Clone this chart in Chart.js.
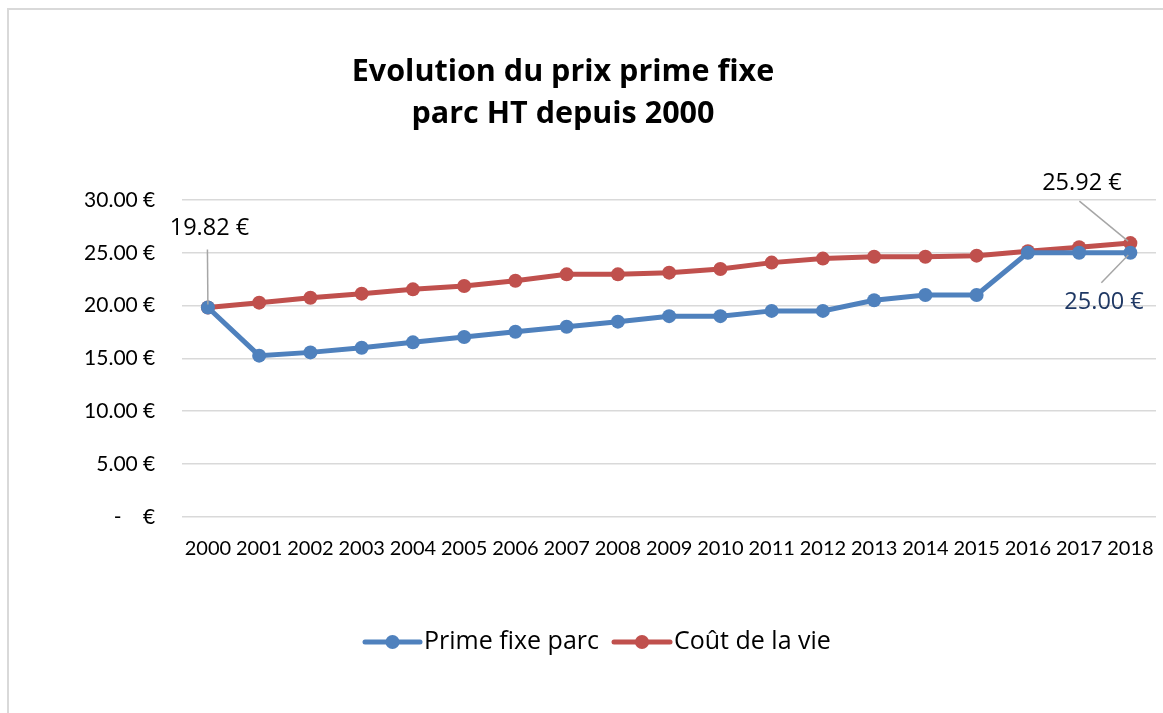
<!DOCTYPE html>
<html>
<head>
<meta charset="utf-8">
<script src="https://cdn.jsdelivr.net/npm/chart.js@4.4.1/dist/chart.umd.min.js"></script>
<style>
  html, body { margin: 0; padding: 0; background: #ffffff; }
  #wrap { position: relative; width: 1163px; height: 713px; overflow: hidden; }
  #frame { position: absolute; left: 7px; top: 8px; width: 1200px; height: 760px; border: 2px solid #d9d9d9; box-sizing: border-box; }
  canvas { position: absolute; left: 0; top: 0; }
</style>
</head>
<body>
<div id="wrap">
  <div id="frame"></div>
  <canvas id="c" width="1163" height="713"></canvas>
</div>
<script>
const titleLines = ['Evolution du prix prime fixe', 'parc HT depuis 2000'];
const years = ['2000','2001','2002','2003','2004','2005','2006','2007','2008','2009','2010','2011','2012','2013','2014','2015','2016','2017','2018'];
const seriesNames = ['Prime fixe parc', 'Coût de la vie'];
const primeFixe = [19.82, 15.26, 15.57, 16.01, 16.52, 17.03, 17.53, 18.00, 18.48, 19.00, 19.00, 19.50, 19.50, 20.50, 21.00, 21.00, 25.00, 25.00, 25.00];
const coutVie = [19.82, 20.28, 20.75, 21.13, 21.54, 21.86, 22.36, 22.96, 22.96, 23.12, 23.47, 24.07, 24.45, 24.63, 24.63, 24.73, 25.15, 25.52, 25.92];
const yTicks = [0, 5, 10, 15, 20, 25, 30];
const colors = ['#4f81bd', '#c0504d'];

const FONT = 'Lato, "Open Sans", sans-serif';
const FONT2 = '"Open Sans", Lato, sans-serif';
const fmt = v => v === 0 ? '-\u00a0\u00a0\u00a0\u00a0€' : v.toFixed(2) + '\u00a0€';

// data labels: dataset index, point index, offset of text and leader line
const dataLabels = [
  { ds: 1, i: 0, dx: 1.5, dy: -79, lx: -0.5, ly: -58, color: '#000000' },
  { ds: 1, i: 18, dx: -48.5, dy: -60, lx: -51, ly: -42, color: '#000000' },
  { ds: 0, i: 18, dx: -26.3, dy: 50, lx: -29, ly: 30, color: '#1f3864' }
];

const custom = {
  id: 'custom',
  afterDraw(chart) {
    const ctx = chart.ctx;
    ctx.save();
    // title
    ctx.fillStyle = '#000000';
    ctx.font = 'bold 30.5px ' + FONT2;
    ctx.textAlign = 'center';
    ctx.textBaseline = 'middle';
    ctx.fillText(titleLines[0], 563, 72);
    ctx.fillText(titleLines[1], 563, 114);

    // data labels
    const vals = [primeFixe, coutVie];
    dataLabels.forEach(d => {
      const p = chart.getDatasetMeta(d.ds).data[d.i];
      ctx.strokeStyle = '#a6a6a6';
      ctx.lineWidth = 1.5;
      ctx.beginPath();
      ctx.moveTo(p.x + d.lx, p.y + d.ly);
      const len = Math.hypot(d.lx, d.ly);
      ctx.lineTo(p.x + d.lx * 3 / len, p.y + d.ly * 3 / len);
      ctx.stroke();
      ctx.fillStyle = d.color;
      ctx.font = '23.5px ' + FONT2;
      ctx.textAlign = 'center';
      ctx.textBaseline = 'middle';
      ctx.fillText(vals[d.ds][d.i].toFixed(2) + '\u00a0€', p.x + d.dx, p.y + d.dy);
    });

    // legend
    const items = [{ x: 365, w: 55 }, { x: 614, w: 56 }];
    const ly = 642;
    items.forEach((it, k) => {
      ctx.strokeStyle = colors[k];
      ctx.lineWidth = 5;
      ctx.lineCap = 'round';
      ctx.beginPath();
      ctx.moveTo(it.x, ly);
      ctx.lineTo(it.x + it.w, ly);
      ctx.stroke();
      ctx.fillStyle = colors[k];
      ctx.beginPath();
      ctx.arc(it.x + it.w / 2, ly, 7, 0, Math.PI * 2);
      ctx.fill();
      ctx.fillStyle = '#000000';
      ctx.font = '25px ' + FONT2;
      ctx.textAlign = 'left';
      ctx.textBaseline = 'middle';
      ctx.fillText(seriesNames[k], it.x + it.w + 4, ly);
    });
    ctx.restore();
  }
};

new Chart(document.getElementById('c'), {
  type: 'line',
  data: {
    labels: years,
    datasets: [
      { label: seriesNames[0], data: primeFixe, borderColor: colors[0], backgroundColor: colors[0],
        borderWidth: 5, pointRadius: 7, pointBorderWidth: 0, pointBackgroundColor: colors[0], tension: 0 },
      { label: seriesNames[1], data: coutVie, borderColor: colors[1], backgroundColor: colors[1],
        borderWidth: 5, pointRadius: 7, pointBorderWidth: 0, pointBackgroundColor: colors[1], tension: 0 }
    ]
  },
  options: {
    responsive: false,
    animation: false,
    layout: { padding: { left: 0, right: 4.3, top: 200, bottom: 0 } },
    plugins: { legend: { display: false }, title: { display: false }, tooltip: { enabled: false } },
    scales: {
      x: {
        offset: true,
        grid: { display: false, drawTicks: false },
        border: { display: false },
        ticks: { color: '#000000', font: { family: FONT, size: 20 }, padding: 20, maxRotation: 0, autoSkip: false },
        afterFit(s) { s.height = 196.2; s.paddingLeft = 0; s.paddingRight = 0; }
      },
      y: {
        min: 0, max: 30,
        afterBuildTicks(s) { s.ticks = yTicks.map(v => ({ value: v })); },
        grid: { color: '#d9d9d9', lineWidth: 1.5, drawTicks: false },
        border: { display: false },
        ticks: { color: '#000000', font: { family: FONT, size: 21 }, padding: 27, callback: v => fmt(v) },
        afterFit(s) { s.width = 182.3; s.paddingTop = 0; s.paddingBottom = 0; }
      }
    }
  },
  plugins: [custom]
});
</script>
</body>
</html>
